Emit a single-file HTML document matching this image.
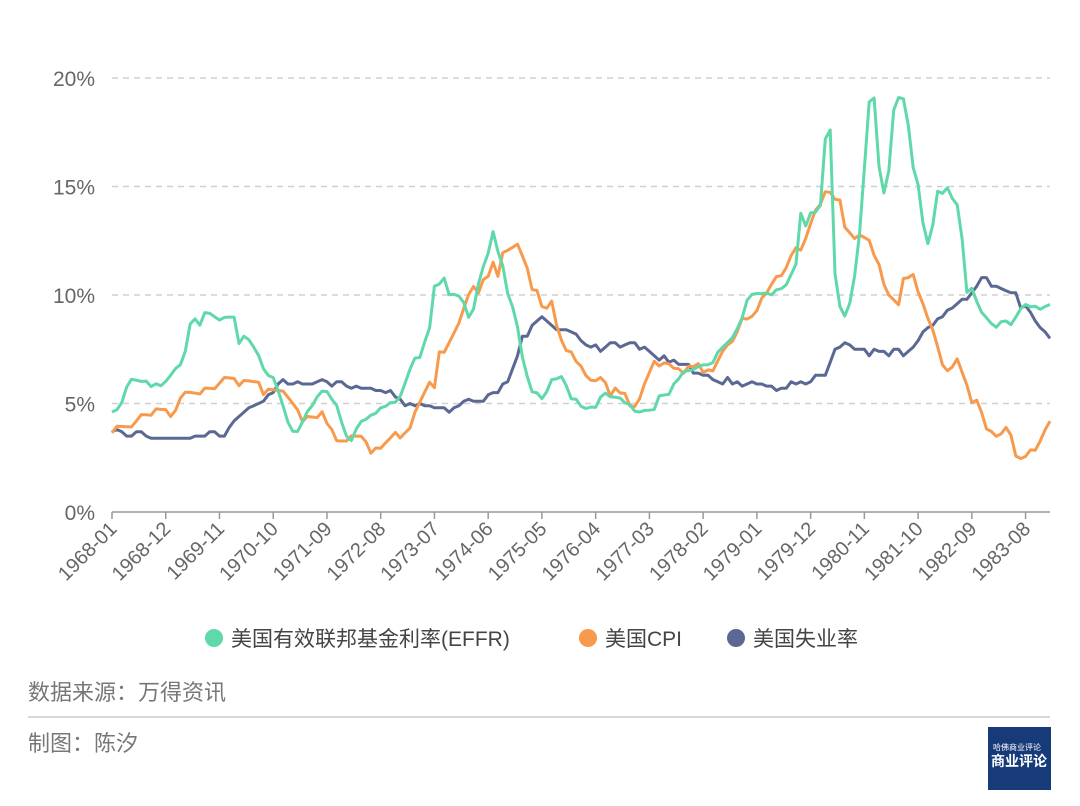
<!DOCTYPE html>
<html><head><meta charset="utf-8">
<style>
body{margin:0;background:#fff;font-family:"Liberation Sans","Noto Sans CJK SC",sans-serif;}
#wrap{position:relative;width:1080px;height:806px;overflow:hidden;}
svg text{font-family:"Liberation Sans","Noto Sans CJK SC",sans-serif;}
</style></head>
<body>
<div id="wrap">
<svg id="chart" width="1080" height="806"></svg>
</div>
<script>
const startYear=1968;
const effr=[4.61,4.71,5.05,5.76,6.12,6.07,6.02,6.03,5.78,5.91,5.82,6.02,
6.30,6.61,6.79,7.41,8.67,8.90,8.61,9.19,9.15,9.00,8.85,8.97,
8.98,8.98,7.76,8.10,7.94,7.60,7.21,6.61,6.29,6.20,5.60,4.90,
4.14,3.72,3.71,4.15,4.63,4.91,5.31,5.57,5.55,5.20,4.91,4.14,
3.50,3.29,3.83,4.17,4.27,4.46,4.55,4.80,4.87,5.04,5.06,5.33,
5.94,6.58,7.09,7.12,7.84,8.49,10.40,10.50,10.78,10.01,10.03,9.95,
9.65,8.97,9.35,10.51,11.31,11.93,12.92,12.01,11.34,10.06,9.45,8.53,
7.13,6.24,5.54,5.49,5.22,5.55,6.10,6.14,6.24,5.82,5.22,5.20,
4.87,4.77,4.84,4.82,5.29,5.48,5.31,5.29,5.25,5.03,4.95,4.65,
4.61,4.68,4.69,4.73,5.35,5.39,5.42,5.90,6.14,6.47,6.51,6.56,
6.70,6.78,6.79,6.89,7.36,7.60,7.81,8.04,8.45,8.96,9.76,10.03,
10.07,10.06,10.09,10.01,10.24,10.29,10.47,10.94,11.43,13.77,13.18,13.78,
13.82,14.13,17.19,17.61,10.98,9.47,9.03,9.61,10.87,12.81,15.85,18.90,
19.08,15.93,14.70,15.72,18.52,19.10,19.04,17.82,15.87,15.08,13.31,12.37,
13.22,14.78,14.68,14.94,14.45,14.15,12.59,10.12,10.31,9.71,9.20,8.95,
8.68,8.51,8.77,8.80,8.63,8.98,9.37,9.56,9.45,9.48,9.34,9.47,9.56];
const cpi=[3.65,3.95,3.94,3.93,3.92,4.20,4.49,4.48,4.46,4.75,4.73,4.72,
4.40,4.68,5.25,5.52,5.51,5.48,5.44,5.71,5.70,5.68,5.93,6.20,
6.18,6.15,5.82,6.06,6.04,6.01,5.98,5.41,5.66,5.63,5.60,5.57,
5.29,5.00,4.71,4.16,4.40,4.38,4.35,4.62,4.08,3.80,3.28,3.27,
3.27,3.51,3.50,3.49,3.23,2.71,2.95,2.94,3.19,3.42,3.67,3.41,
3.65,3.87,4.59,5.06,5.53,5.98,5.73,7.38,7.36,7.80,8.25,8.71,
9.39,10.02,10.39,10.09,10.71,10.86,11.51,10.86,11.95,12.06,12.20,12.34,
11.80,11.23,10.25,10.21,9.47,9.39,9.72,8.60,7.91,7.44,7.38,6.94,
6.72,6.29,6.07,6.05,6.20,5.97,5.35,5.71,5.49,5.46,4.88,4.86,
5.22,5.91,6.44,6.95,6.73,6.87,6.83,6.62,6.60,6.39,6.72,6.70,
6.84,6.43,6.55,6.50,6.97,7.41,7.70,7.86,8.31,8.93,8.89,9.02,
9.28,9.86,10.09,10.49,10.85,10.89,11.26,11.82,12.18,12.07,12.61,13.29,
13.91,14.18,14.76,14.73,14.41,14.38,13.13,12.87,12.60,12.77,12.65,12.52,
11.83,11.41,10.49,10.00,9.78,9.55,10.76,10.80,10.95,10.14,9.59,8.92,
8.39,7.62,6.78,6.51,6.68,7.06,6.44,5.85,5.04,5.15,4.59,3.83,
3.71,3.49,3.60,3.90,3.55,2.58,2.46,2.56,2.86,2.85,3.27,3.79,4.19];
const unemp=[3.7,3.8,3.7,3.5,3.5,3.7,3.7,3.5,3.4,3.4,3.4,3.4,
3.4,3.4,3.4,3.4,3.4,3.5,3.5,3.5,3.7,3.7,3.5,3.5,
3.9,4.2,4.4,4.6,4.8,4.9,5.0,5.1,5.4,5.5,5.9,6.1,
5.9,5.9,6.0,5.9,5.9,5.9,6.0,6.1,6.0,5.8,6.0,6.0,
5.8,5.7,5.8,5.7,5.7,5.7,5.6,5.6,5.5,5.6,5.3,5.2,
4.9,5.0,4.9,5.0,4.9,4.9,4.8,4.8,4.8,4.6,4.8,4.9,
5.1,5.2,5.1,5.1,5.1,5.4,5.5,5.5,5.9,6.0,6.6,7.2,
8.1,8.1,8.6,8.8,9.0,8.8,8.6,8.4,8.4,8.4,8.3,8.2,
7.9,7.7,7.6,7.7,7.4,7.6,7.8,7.8,7.6,7.7,7.8,7.8,
7.5,7.6,7.4,7.2,7.0,7.2,6.9,7.0,6.8,6.8,6.8,6.4,
6.4,6.3,6.3,6.1,6.0,5.9,6.2,5.9,6.0,5.8,5.9,6.0,
5.9,5.9,5.8,5.8,5.6,5.7,5.7,6.0,5.9,6.0,5.9,6.0,
6.3,6.3,6.3,6.9,7.5,7.6,7.8,7.7,7.5,7.5,7.5,7.2,
7.5,7.4,7.4,7.2,7.5,7.5,7.2,7.4,7.6,7.9,8.3,8.5,
8.6,8.9,9.0,9.3,9.4,9.6,9.8,9.8,10.1,10.4,10.8,10.8,
10.4,10.4,10.3,10.2,10.1,10.1,9.4,9.5,9.2,8.8,8.5,8.3,8.0];
const yTicks=[0,5,10,15,20];
const seriesNames=["美国有效联邦基金利率(EFFR)","美国CPI","美国失业率"];
const seriesColors=["#5fd8aa","#f89a4e","#5b6893"];

const NS="http://www.w3.org/2000/svg";
const svg=document.getElementById('chart');
const X0=112,X1=1050,Y0=512,Y20=78;
const n=effr.length;
const x=i=>X0+(X1-X0)*i/(n-1);
const y=v=>Y0-(Y0-Y20)*v/20;
function mk(t,a){const e=document.createElementNS(NS,t);for(const k in a)e.setAttribute(k,a[k]);svg.appendChild(e);return e;}
yTicks.forEach(v=>{
 if(v>0){const g=mk('line',{x1:X0,x2:X1,y1:y(v),y2:y(v),stroke:'#d0d0d0','stroke-width':1.5,'stroke-dasharray':'6,5'});
 
 }
 const t=mk('text',{x:95,y:y(v)+8,'text-anchor':'end','font-size':21,fill:'#666'});t.textContent=v+'%';
 
 
});
const ax=mk('line',{x1:X0,x2:X1,y1:Y0,y2:Y0,stroke:'#999','stroke-width':1.5});


for(let i=0;i<n;i+=11){
 const tk=mk('line',{x1:x(i),x2:x(i),y1:Y0,y2:Y0+7,stroke:'#999','stroke-width':1.5});
 
 
 const yr=startYear+Math.floor(i/12),mo=i%12+1;
 const lab=yr+'-'+(mo<10?'0':'')+mo;
 const t=mk('text',{x:x(i)+6,y:Y0+18,'text-anchor':'end','font-size':20,fill:'#666',transform:`rotate(-45 ${x(i)+6} ${Y0+18})`});
 t.textContent=lab;
 
 
}
[unemp,cpi,effr].forEach((d,k)=>{
 const idx=[2,1,0][k];
 const p=mk('polyline',{points:d.map((v,i)=>x(i).toFixed(1)+','+y(v).toFixed(1)).join(' '),fill:'none',stroke:seriesColors[idx],'stroke-width':3,'stroke-linejoin':'round'});
 
 
});
const lx=[214,588,736];
seriesNames.forEach((s,i)=>{
 const c=mk('circle',{cx:lx[i],cy:638,r:9,fill:seriesColors[i]});
 
 
 const t=mk('text',{x:lx[i]+17,y:646,'font-size':21,fill:'#444'});t.textContent=s;
 
 
});
const s1=mk('text',{x:28,y:700,'font-size':22,fill:'#777'});s1.textContent='数据来源：万得资讯';


const sep=mk('line',{x1:28,x2:1050,y1:717,y2:717,stroke:'#d8d8d8','stroke-width':2});


const s2=mk('text',{x:28,y:751,'font-size':22,fill:'#777'});s2.textContent='制图：陈汐';


const lg=mk('rect',{x:988,y:727,width:63,height:63,fill:'#173a78'});


const l1=mk('text',{x:993,y:750,'font-size':8,fill:'#fff'});l1.textContent='哈佛商业评论';


const l2=mk('text',{x:1019,y:766,'font-size':14,fill:'#fff','text-anchor':'middle','font-weight':'bold'});l2.textContent='商业评论';


</script>
</body></html>
